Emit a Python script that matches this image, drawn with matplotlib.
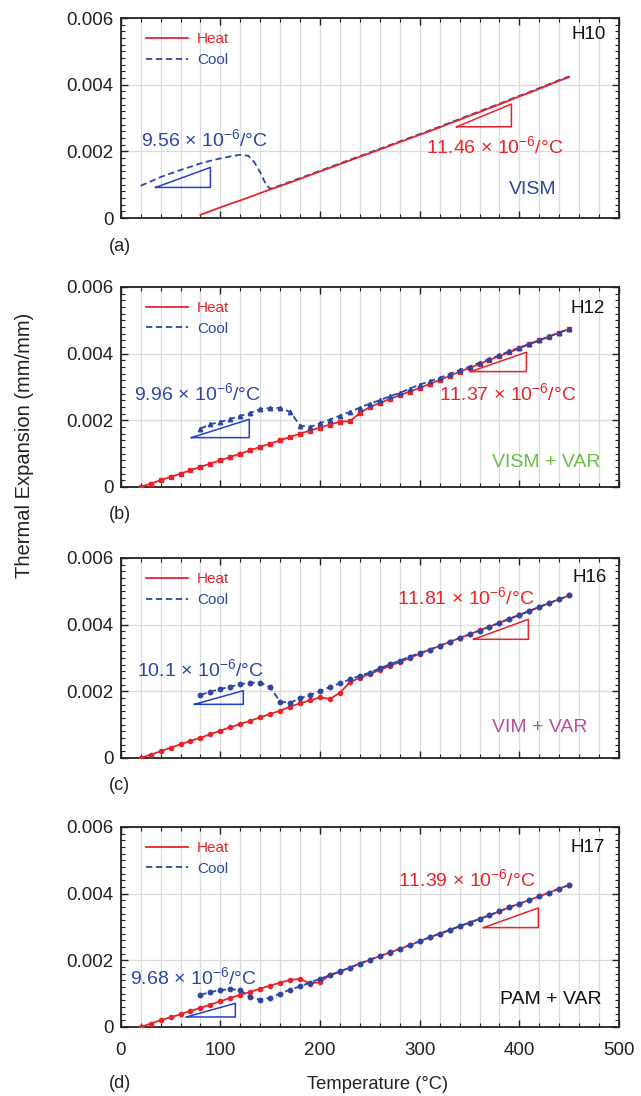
import matplotlib
matplotlib.use("Agg")
import matplotlib.pyplot as plt
from matplotlib.lines import Line2D
from matplotlib.ticker import MultipleLocator, FuncFormatter

plt.rcParams["font.family"] = ["Liberation Sans", "DejaVu Sans"]
plt.rcParams["mathtext.fontset"] = "custom"
plt.rcParams["mathtext.rm"] = "Liberation Sans"
plt.rcParams["mathtext.it"] = "Liberation Sans:italic"
plt.rcParams["mathtext.bf"] = "Liberation Sans:bold"

# ---- data (temperature in degC, expansion in mm/mm) ----
temp_heat_a = [80, 90, 100, 110, 120, 130, 140, 150, 160, 170, 180, 190, 200, 210,
               220, 230, 240, 250, 260, 270, 280, 290, 300, 310, 320, 330, 340, 350,
               360, 370, 380, 390, 400, 410, 420, 430, 440, 450]
exp_heat_a = [0.00010, 0.00021, 0.00032, 0.00043, 0.00053, 0.00064, 0.00075, 0.00086,
              0.00096, 0.00107, 0.00118, 0.00129, 0.00140, 0.00151, 0.00162, 0.00173,
              0.00184, 0.00195, 0.00206, 0.00217, 0.00228, 0.00239, 0.00250, 0.00261,
              0.00272, 0.00284, 0.00295, 0.00307, 0.00318, 0.00330, 0.00341, 0.00353,
              0.00365, 0.00376, 0.00388, 0.00400, 0.00412, 0.00423]
temp_cool_a = [20, 30, 40, 50, 60, 70, 80, 90, 100, 110, 120, 128, 134, 140, 146,
               150, 160, 170, 180, 190, 200, 210, 220, 230, 240, 250, 260, 270, 280,
               290, 300, 310, 320, 330, 340, 350, 360, 370, 380, 390, 400, 410, 420,
               430, 440, 450]
exp_cool_a = [0.00097, 0.00110, 0.00123, 0.00134, 0.00144, 0.00154, 0.00164, 0.00172,
              0.00179, 0.00185, 0.00190, 0.00187, 0.00168, 0.00137, 0.00099,
              0.00088, 0.00098, 0.00109, 0.00120, 0.00131, 0.00142, 0.00153, 0.00164,
              0.00175, 0.00186, 0.00197, 0.00208, 0.00219, 0.00230, 0.00241, 0.00252,
              0.00263, 0.00274, 0.00286, 0.00297, 0.00309, 0.00320, 0.00332, 0.00343,
              0.00355, 0.00367, 0.00378, 0.00390, 0.00402, 0.00414, 0.00425]

# measured every 10 degC for H12, H16, H17
temp_heat = [20, 30, 40, 50, 60, 70, 80, 90, 100, 110, 120, 130, 140, 150, 160, 170,
             180, 190, 200, 210, 220, 230, 240, 250, 260, 270, 280, 290, 300, 310, 320,
             330, 340, 350, 360, 370, 380, 390, 400, 410, 420, 430, 440, 450]
temp_cool = [80, 90, 100, 110, 120, 130, 140, 150, 160, 170, 180, 190, 200, 210, 220,
             230, 240, 250, 260, 270, 280, 290, 300, 310, 320, 330, 340, 350, 360, 370,
             380, 390, 400, 410, 420, 430, 440, 450]

exp_heat_b = [0.00000, 0.00010, 0.00020, 0.00030, 0.00040, 0.00050, 0.00060, 0.00070,
              0.00080, 0.00090, 0.00100, 0.00110, 0.00120, 0.00130, 0.00140, 0.00150,
              0.00160, 0.00169, 0.00178, 0.00187, 0.00196, 0.00197, 0.00222, 0.00240,
              0.00252, 0.00264, 0.00275, 0.00286, 0.00297, 0.00309, 0.00321, 0.00333,
              0.00346, 0.00357, 0.00369, 0.00381, 0.00393, 0.00404, 0.00416, 0.00428,
              0.00440, 0.00451, 0.00463, 0.00474]
exp_cool_b = [0.00175, 0.00188, 0.00195, 0.00204, 0.00213, 0.00222, 0.00234, 0.00237,
              0.00237, 0.00225, 0.00184, 0.00180, 0.00191, 0.00202, 0.00214, 0.00225,
              0.00238, 0.00250, 0.00260, 0.00272, 0.00282, 0.00295, 0.00307, 0.00317,
              0.00327, 0.00339, 0.00351, 0.00361, 0.00373, 0.00384, 0.00395, 0.00407,
              0.00418, 0.00429, 0.00440, 0.00452, 0.00463, 0.00474]

exp_heat_c = [0.00000, 0.00010, 0.00020, 0.00031, 0.00041, 0.00051, 0.00061, 0.00071,
              0.00082, 0.00092, 0.00102, 0.00112, 0.00122, 0.00132, 0.00142, 0.00154,
              0.00164, 0.00173, 0.00182, 0.00177, 0.00196, 0.00227, 0.00241, 0.00252,
              0.00264, 0.00276, 0.00288, 0.00300, 0.00313, 0.00325, 0.00336, 0.00348,
              0.00360, 0.00371, 0.00383, 0.00394, 0.00406, 0.00418, 0.00429, 0.00441,
              0.00453, 0.00465, 0.00476, 0.00488]
exp_cool_c = [0.00189, 0.00199, 0.00207, 0.00214, 0.00221, 0.00226, 0.00226, 0.00212,
              0.00169, 0.00166, 0.00179, 0.00189, 0.00201, 0.00213, 0.00224, 0.00236,
              0.00247, 0.00256, 0.00269, 0.00281, 0.00292, 0.00304, 0.00315, 0.00325,
              0.00337, 0.00349, 0.00360, 0.00371, 0.00382, 0.00394, 0.00405, 0.00417,
              0.00429, 0.00441, 0.00453, 0.00465, 0.00476, 0.00488]

exp_heat_d = [0.00000, 0.00010, 0.00020, 0.00029, 0.00038, 0.00048, 0.00057, 0.00067,
              0.00077, 0.00087, 0.00096, 0.00105, 0.00115, 0.00124, 0.00133, 0.00141,
              0.00144, 0.00130, 0.00135, 0.00155, 0.00166, 0.00178, 0.00190, 0.00201,
              0.00213, 0.00223, 0.00234, 0.00245, 0.00257, 0.00269, 0.00280, 0.00290,
              0.00302, 0.00313, 0.00324, 0.00335, 0.00347, 0.00359, 0.00370, 0.00381,
              0.00392, 0.00403, 0.00415, 0.00426]
exp_cool_d = [0.00096, 0.00105, 0.00110, 0.00114, 0.00110, 0.00090, 0.00081, 0.00088,
              0.00100, 0.00112, 0.00122, 0.00133, 0.00145, 0.00155, 0.00167, 0.00178,
              0.00190, 0.00202, 0.00213, 0.00224, 0.00235, 0.00246, 0.00257, 0.00269,
              0.00280, 0.00291, 0.00302, 0.00313, 0.00324, 0.00335, 0.00347, 0.00359,
              0.00370, 0.00381, 0.00392, 0.00403, 0.00415, 0.00426]

samples = ["H10", "H12", "H16", "H17"]
processes = ["VISM", "VISM + VAR", "VIM + VAR", "PAM + VAR"]
panel_tags = ["(a)", "(b)", "(c)", "(d)"]
cte_cool = ["9.56", "9.96", "10.1", "9.68"]
cte_heat = ["11.46", "11.37", "11.81", "11.39"]

RED = "#e8232b"
BLUE = "#2d47a3"
TRI_BLUE = "#2440c8"
process_colors = ["#2d47a3", "#6cbd45", "#b5509e", "#111111"]

# annotation layout per panel (data coords)
layout = [
    dict(cool_txt=(20, 0.00215), heat_txt=(375, 0.00195), proc=(413, 0.00071), tag=(487, 0.00537),
         tri_c=(35, 90, 0.00092, 0.00152), tri_h=(337, 392, 0.00274, 0.00342),
         mk_h=None, mk_c=None),
    dict(cool_txt=(13, 0.00260), heat_txt=(388, 0.00260), proc=(427, 0.00060), tag=(486, 0.00521),
         tri_c=(71, 129, 0.00148, 0.00203), tri_h=(351, 407, 0.00346, 0.00404),
         mk_h="s", mk_c="^"),
    dict(cool_txt=(16, 0.00246), heat_txt=(346, 0.00462), proc=(420, 0.00079), tag=(488, 0.00527),
         tri_c=(74, 123, 0.00161, 0.00202), tri_h=(354, 409, 0.00356, 0.00416),
         mk_h="o", mk_c="o"),
    dict(cool_txt=(9, 0.00129), heat_txt=(347, 0.00423), proc=(432, 0.00069), tag=(486, 0.00525),
         tri_c=(66, 115, 0.00030, 0.00071), tri_h=(364, 419, 0.00298, 0.00357),
         mk_h="o", mk_c="o"),
]

series = [
    (temp_heat_a, exp_heat_a, temp_cool_a, exp_cool_a),
    (temp_heat, exp_heat_b, temp_cool, exp_cool_b),
    (temp_heat, exp_heat_c, temp_cool, exp_cool_c),
    (temp_heat, exp_heat_d, temp_cool, exp_cool_d),
]

fig = plt.figure(figsize=(6.41, 10.96), dpi=100)
bottoms = [0.801, 0.5557, 0.3084, 0.0630]
ax_h = 0.1825
ax_l, ax_w = 0.1883, 0.7775


def draw_triangle(ax, tri, color):
    x0, x1, y0, y1 = tri
    ax.plot([x0, x1, x1, x0], [y0, y1, y0, y0], color=color, lw=1.1, zorder=4)


for i in range(4):
    ax = fig.add_axes([ax_l, bottoms[i], ax_w, ax_h])
    th, eh, tc, ec = series[i]
    lay = layout[i]

    ax.plot(th, eh, color=RED, lw=1.3, marker=lay["mk_h"], ms=3, zorder=3)
    ax.plot(tc, ec, color=BLUE, lw=1.3, dashes=(3.5, 2), marker=lay["mk_c"],
            ms=3.2, zorder=3.5 if i > 0 else 2.5)

    ax.set_xlim(0, 500)
    ax.set_ylim(0, 0.006)
    ax.xaxis.set_major_locator(MultipleLocator(100))
    ax.xaxis.set_minor_locator(MultipleLocator(20))
    ax.yaxis.set_major_locator(MultipleLocator(0.002))
    ax.yaxis.set_minor_locator(MultipleLocator(0.0002))
    ax.yaxis.set_major_formatter(FuncFormatter(lambda v, p: "0" if abs(v) < 1e-9 else "%g" % v))
    ax.grid(True, which="major", color="#dcdcdc", lw=0.9, zorder=0)
    ax.grid(True, which="minor", axis="x", color="#dcdcdc", lw=0.9, zorder=0)
    ax.set_axisbelow(True)
    ax.tick_params(which="both", direction="in", top=True, right=True, colors="#222222",
                   labelsize=13.5, labelcolor="#222222")
    ax.tick_params(which="major", length=5, width=1.0)
    ax.tick_params(which="minor", length=3, width=0.8)
    ax.tick_params(axis="x", pad=11)
    ax.tick_params(axis="y", pad=5)
    for sp in ax.spines.values():
        sp.set_linewidth(1.3)
        sp.set_color("#222222")
    if i < 3:
        ax.tick_params(axis="x", labelbottom=False)

    handles = [Line2D([], [], color=RED, lw=1.3),
               Line2D([], [], color=BLUE, lw=1.3, dashes=(3.5, 2))]
    ax.legend(handles, ["Heat", "Cool"], loc="upper left", bbox_to_anchor=(0.05, 0.93),
              frameon=False, fontsize=11, handlelength=2.8, handletextpad=0.55,
              labelspacing=0.45, borderpad=0, borderaxespad=0, labelcolor=[RED, BLUE])

    draw_triangle(ax, lay["tri_c"], TRI_BLUE)
    draw_triangle(ax, lay["tri_h"], RED)

    x, y = lay["cool_txt"]
    ax.text(x, y, cte_cool[i] + r" × 10$^{-6}$/°C", color=BLUE, fontsize=14,
            ha="left", va="baseline", zorder=5)
    x, y = lay["heat_txt"]
    ax.text(x, y, cte_heat[i] + r" × 10$^{-6}$/°C", color=RED, fontsize=14,
            ha="center", va="baseline", zorder=5)
    x, y = lay["proc"]
    ax.text(x, y, processes[i], color=process_colors[i], fontsize=14,
            ha="center", va="baseline")
    x, y = lay["tag"]
    ax.text(x, y, samples[i], color="#111111", fontsize=13.5, ha="right", va="baseline")

    if i == 3:
        ax.set_xlabel("Temperature (°C)", fontsize=13.2, color="#222222")
        ax.xaxis.set_label_coords(0.515, -0.245)

tag_y = [0.775, 0.531, 0.283, 0.011]
for i in range(4):
    fig.text(0.187, tag_y[i], panel_tags[i], fontsize=13, ha="center", va="center",
             color="#222222")

fig.text(0.039, 0.594, "Thermal Expansion (mm/mm)", rotation=90, fontsize=14.5,
         ha="center", va="center", color="#222222")

fig.savefig("out.png", dpi=100)
